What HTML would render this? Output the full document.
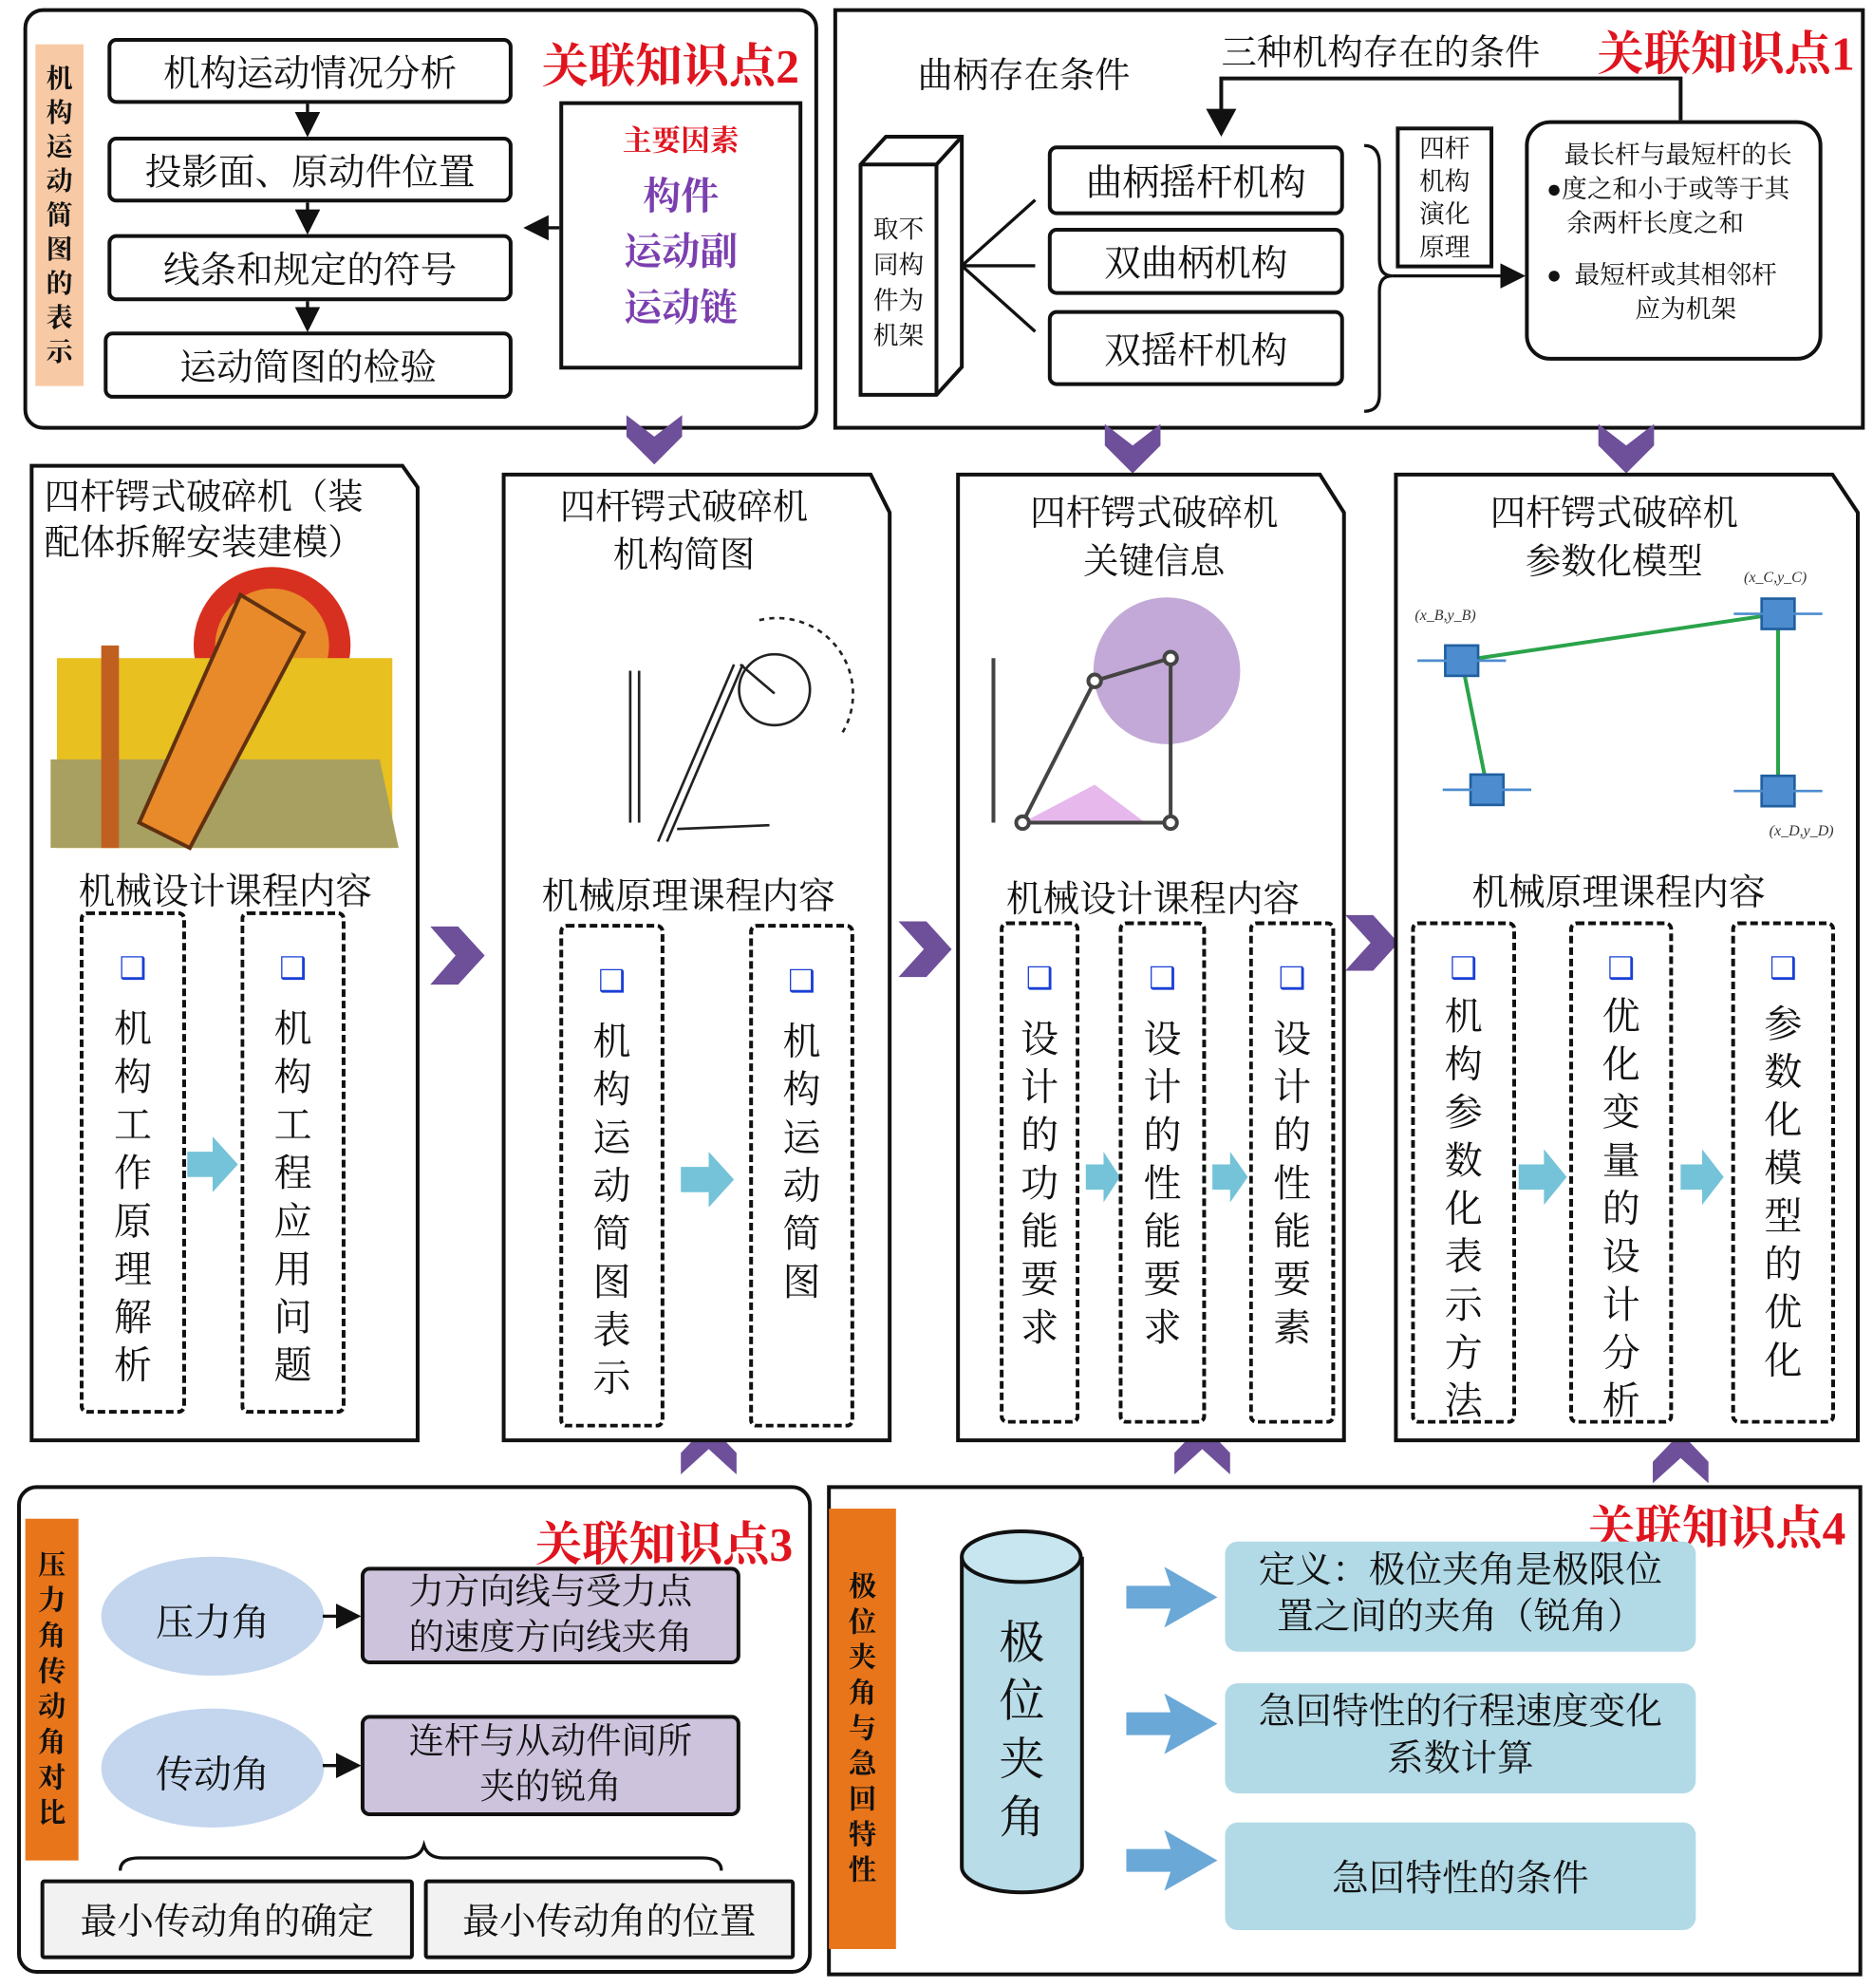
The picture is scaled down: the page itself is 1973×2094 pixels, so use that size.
<!DOCTYPE html>
<html><head><meta charset="utf-8"><style>
html,body{margin:0;padding:0;background:#fff;}
#wrap{width:1973px;height:2094px;overflow:hidden;position:relative;}
#c{position:absolute;left:0;top:0;width:1480px;height:1571px;transform:scale(1.3331);transform-origin:0 0;font-family:"Liberation Serif","Noto Serif CJK SC","Noto Sans CJK SC",serif;color:#111;}
.a{position:absolute;box-sizing:border-box;}
.bx{border:3px solid #111;border-radius:7px;display:flex;align-items:center;justify-content:center;font-size:29px;}
.red{color:#e0141e;font-size:37px;font-weight:bold;}
.vl{display:flex;flex-direction:column;align-items:center;justify-content:center;font-weight:bold;font-size:21px;line-height:27px;}
.dash{border:3px dashed #111;border-radius:6px;display:flex;flex-direction:column;align-items:center;font-size:30px;line-height:38px;padding-top:28px;}
.dash .ck{color:#1a3fd6;font-size:24px;line-height:30px;margin-bottom:14px;}
.t{position:absolute;white-space:nowrap;}
</style></head><body><div id="wrap"><div id="c">
<svg class="a" style="left:0;top:0" width="1480" height="1571" viewBox="0 0 1480 1571">
<defs><marker id="ah" markerWidth="8" markerHeight="8" refX="7" refY="4" orient="auto"><path d="M0,0L8,4L0,8z" fill="#111"/></marker></defs>
<rect x="20" y="8" width="625" height="330" rx="14" fill="none" stroke="#111" stroke-width="3"/>
<rect x="660" y="8" width="812" height="330" fill="none" stroke="#111" stroke-width="3"/>
<g stroke="#111" stroke-width="2.5" marker-end="url(#ah)"><line x1="243" y1="82" x2="243" y2="106"/><line x1="243" y1="160" x2="243" y2="183"/><line x1="243" y1="238" x2="243" y2="260"/><line x1="442" y1="180" x2="416" y2="180"/></g>
<polyline points="1328,95 1328,62 965,62 965,88" fill="none" stroke="#111" stroke-width="3"/><path d="M953,86L977,86L965,108z" fill="#111"/>
<path d="M680,130L700,108L760,108L760,290L740,312L680,312z" fill="#fff" stroke="#111" stroke-width="3"/><path d="M680,130L740,130L760,108M740,130L740,312" fill="none" stroke="#111" stroke-width="3"/>
<g stroke="#111" stroke-width="2.5"><line x1="760" y1="210" x2="818" y2="158"/><line x1="760" y1="210" x2="818" y2="210"/><line x1="760" y1="210" x2="818" y2="262"/></g>
<path d="M1078,115 Q1090,115 1090,130 L1090,205 Q1090,218 1100,218 Q1090,218 1090,230 L1090,312 Q1090,325 1078,325" fill="none" stroke="#111" stroke-width="2.5"/>
<line x1="1100" y1="218" x2="1203" y2="218" stroke="#111" stroke-width="2.5" marker-end="url(#ah)"/>
<g fill="#6e4f9a"><path d="M495,328L517,345L539,328L539,345L517,367L495,345z"/><path d="M873,335L895,352L917,335L917,352L895,374L873,352z"/><path d="M1263,335L1285,352L1307,335L1307,352L1285,374L1263,352z"/>
<path d="M340,732L360,755L340,778L362,778L383,755L362,732z"/><path d="M710,728L730,750L710,772L732,772L752,750L732,728z"/><path d="M1063,723L1083,745L1063,767L1085,767L1105,745L1085,723z"/>
<path d="M538,1165L560,1145L582,1165L582,1148L560,1125L538,1148z"/><path d="M928,1165L950,1145L972,1165L972,1148L950,1125L928,1148z"/><path d="M1306,1172L1328,1152L1350,1172L1350,1155L1328,1132L1306,1155z"/></g>
<g fill="#fff" stroke="#111" stroke-width="3"><path d="M25,368L318,368L330,385L330,1138L25,1138z"/><path d="M398,375L688,375L703,405L703,1138L398,1138z"/><path d="M757,375L1043,375L1062,405L1062,1138L757,1138z"/><path d="M1103,375L1448,375L1468,405L1468,1138L1103,1138z"/></g>
<circle cx="215" cy="510" r="62" fill="#d83020"/><circle cx="215" cy="510" r="45" fill="#e88a2a"/>
<rect x="45" y="520" width="265" height="150" fill="#e8c020"/><path d="M40,600L300,600L315,670L40,670z" fill="#a8a060"/>
<path d="M190,470L240,500L150,670L110,650z" fill="#e88a2a" stroke="#603010" stroke-width="3"/><rect x="80" y="510" width="14" height="160" fill="#c06020"/>
<g stroke="#222" stroke-width="2" fill="none"><line x1="498" y1="530" x2="498" y2="650"/><line x1="505" y1="530" x2="505" y2="650"/><line x1="520" y1="665" x2="580" y2="525"/><line x1="527" y1="665" x2="587" y2="525"/><circle cx="612" cy="545" r="28"/><line x1="585" y1="525" x2="612" y2="548"/><line x1="535" y1="655" x2="608" y2="652"/><path d="M600,490 A60,60 0 0 1 665,580" stroke-dasharray="4,4"/></g>
<circle cx="922" cy="530" r="58" fill="#b89ad0" opacity=".85"/><path d="M808,650L865,620L905,650z" fill="#e6b8ec"/>
<g stroke="#444" stroke-width="3" fill="none"><line x1="865" y1="538" x2="925" y2="520"/><line x1="865" y1="538" x2="808" y2="650"/><line x1="808" y1="650" x2="925" y2="650"/><line x1="925" y1="520" x2="925" y2="650"/><line x1="785" y1="520" x2="785" y2="650"/><circle cx="865" cy="538" r="5" fill="#fff"/><circle cx="808" cy="650" r="5" fill="#fff"/><circle cx="925" cy="650" r="5" fill="#fff"/><circle cx="925" cy="520" r="5" fill="#fff"/></g>
<g stroke="#2aa34a" stroke-width="3"><line x1="1155" y1="522" x2="1405" y2="485"/><line x1="1155" y1="522" x2="1175" y2="622"/><line x1="1405" y1="485" x2="1405" y2="625"/></g>
<g fill="#4d8ccf" stroke="#2060a0" stroke-width="2"><rect x="1142" y="510" width="26" height="24"/><rect x="1392" y="473" width="26" height="24"/><rect x="1162" y="612" width="26" height="24"/><rect x="1392" y="613" width="26" height="24"/></g>
<g stroke="#4d8ccf" stroke-width="2"><line x1="1120" y1="522" x2="1190" y2="522"/><line x1="1370" y1="485" x2="1440" y2="485"/><line x1="1140" y1="624" x2="1210" y2="624"/><line x1="1370" y1="625" x2="1440" y2="625"/></g>
<g font-size="12" font-style="italic" fill="#333"><text x="1118" y="490">(x_B,y_B)</text><text x="1378" y="460">(x_C,y_C)</text><text x="1398" y="660">(x_D,y_D)</text></g>
<g fill="#74c3d8"><path d="M148,910L168,910L168,898L188,920L168,942L168,930L148,930z"/><path d="M538,922L560,922L560,910L580,932L560,954L560,942L538,942z"/><path d="M858,920L872,920L872,910L885,930L872,950L872,940L858,940z"/><path d="M958,920L972,920L972,910L986,930L972,950L972,940L958,940z"/><path d="M1200,920L1220,920L1220,908L1238,930L1220,952L1220,940L1200,940z"/><path d="M1328,920L1345,920L1345,908L1362,930L1345,952L1345,940L1328,940z"/></g>
<rect x="15" y="1175" width="625" height="383" rx="14" fill="none" stroke="#111" stroke-width="3"/>
<rect x="655" y="1175" width="815" height="385" fill="none" stroke="#111" stroke-width="3"/>
<ellipse cx="168" cy="1277" rx="88" ry="47" fill="#c3d6ee"/><ellipse cx="168" cy="1397" rx="88" ry="47" fill="#c3d6ee"/>
<g stroke="#111" stroke-width="2.5" marker-end="url(#ah)"><line x1="255" y1="1277" x2="283" y2="1277"/><line x1="255" y1="1395" x2="283" y2="1395"/></g>
<path d="M95,1478 Q95,1468 110,1468 L320,1468 Q332,1468 335,1458 Q338,1468 350,1468 L555,1468 Q570,1468 570,1478" fill="none" stroke="#111" stroke-width="2.5"/>
<path d="M760,1230 L760,1475 A47,20 0 0 0 855,1475 L855,1230" fill="#b8dce8" stroke="#111" stroke-width="3"/><ellipse cx="807" cy="1230" rx="47" ry="20" fill="#c8e6f0" stroke="#111" stroke-width="3"/>
<g fill="#6aa8d8"><path d="M890,1253L925,1253L920,1238L962,1262L920,1286L925,1271L890,1271z"/><path d="M890,1353L925,1353L920,1338L962,1362L920,1386L925,1371L890,1371z"/><path d="M890,1461L925,1461L920,1446L962,1470L920,1494L925,1479L890,1479z"/></g>
</svg>

<div class="a vl" style="left:28px;top:35px;width:38px;height:270px;background:#f7c9a4;">机<br>构<br>运<br>动<br>简<br>图<br>的<br>表<br>示</div>
<div class="a bx" style="left:85px;top:30px;width:320px;height:52px;">机构运动情况分析</div>
<div class="a bx" style="left:85px;top:108px;width:320px;height:52px;">投影面、原动件位置</div>
<div class="a bx" style="left:85px;top:185px;width:320px;height:53px;">线条和规定的符号</div>
<div class="a bx" style="left:82px;top:262px;width:323px;height:53px;">运动简图的检验</div>
<div class="t red" style="left:428px;top:22px;">关联知识点2</div>
<div class="a" style="left:442px;top:80px;width:192px;height:212px;border:3px solid #111;text-align:center;">
<div style="color:#e0141e;font-size:23px;font-weight:bold;margin-top:10px;">主要因素</div>
<div style="color:#7b3fb0;font-size:30px;font-weight:bold;line-height:44px;margin-top:8px;">构件<br>运动副<br>运动链</div></div>

<div class="t" style="left:725px;top:38px;font-size:28px;">曲柄存在条件</div>
<div class="t" style="left:965px;top:20px;font-size:28px;">三种机构存在的条件</div>
<div class="t red" style="left:1262px;top:12px;">关联知识点1</div>
<div class="a" style="left:684px;top:168px;width:52px;font-size:20px;line-height:28px;text-align:center;">取不<br>同构<br>件为<br>机架</div>
<div class="a bx" style="left:828px;top:115px;width:234px;height:55px;">曲柄摇杆机构</div>
<div class="a bx" style="left:828px;top:180px;width:234px;height:53px;">双曲柄机构</div>
<div class="a bx" style="left:828px;top:245px;width:234px;height:60px;">双摇杆机构</div>
<div class="a" style="left:1103px;top:100px;width:77px;height:112px;border:3px solid #111;font-size:20px;line-height:26px;text-align:center;padding-top:2px;">四杆<br>机构<br>演化<br>原理</div>
<div class="a" style="left:1205px;top:95px;width:235px;height:190px;border:3px solid #111;border-radius:20px;font-size:20px;line-height:27px;padding:12px 4px 0 14px;">
<div style="text-indent:14px;">最长杆与最短杆的长</div><div>●度之和小于或等于其</div><div style="padding-left:16px;">余两杆长度之和</div>
<div style="margin-top:14px;">●&nbsp; 最短杆或其相邻杆</div><div style="padding-left:70px;">应为机架</div></div>

<div class="t" style="left:35px;top:376px;font-size:28px;line-height:36px;white-space:normal;width:275px;">四杆锷式破碎机（装配体拆解安装建模）</div>
<div class="t" style="left:62px;top:682px;font-size:29px;">机械设计课程内容</div>
<div class="a dash" style="left:63px;top:720px;width:84px;height:397px;"><span class="ck">❑</span>机<br>构<br>工<br>作<br>原<br>理<br>解<br>析</div>
<div class="a dash" style="left:190px;top:720px;width:83px;height:397px;"><span class="ck">❑</span>机<br>构<br>工<br>程<br>应<br>用<br>问<br>题</div>

<div class="t" style="left:398px;top:383px;width:285px;text-align:center;font-size:28px;line-height:38px;">四杆锷式破碎机<br>机构简图</div>
<div class="t" style="left:428px;top:686px;font-size:29px;">机械原理课程内容</div>
<div class="a dash" style="left:442px;top:730px;width:83px;height:398px;"><span class="ck">❑</span>机<br>构<br>运<br>动<br>简<br>图<br>表<br>示</div>
<div class="a dash" style="left:592px;top:730px;width:83px;height:398px;"><span class="ck">❑</span>机<br>构<br>运<br>动<br>简<br>图</div>

<div class="t" style="left:757px;top:388px;width:310px;text-align:center;font-size:28px;line-height:38px;">四杆锷式破碎机<br>关键信息</div>
<div class="t" style="left:795px;top:688px;font-size:29px;">机械设计课程内容</div>
<div class="a dash" style="left:790px;top:728px;width:63px;height:397px;"><span class="ck">❑</span>设<br>计<br>的<br>功<br>能<br>要<br>求</div>
<div class="a dash" style="left:884px;top:728px;width:69px;height:397px;"><span class="ck">❑</span>设<br>计<br>的<br>性<br>能<br>要<br>求</div>
<div class="a dash" style="left:987px;top:728px;width:68px;height:397px;"><span class="ck">❑</span>设<br>计<br>的<br>性<br>能<br>要<br>素</div>

<div class="t" style="left:1103px;top:388px;width:345px;text-align:center;font-size:28px;line-height:38px;">四杆锷式破碎机<br>参数化模型</div>
<div class="t" style="left:1163px;top:683px;font-size:29px;">机械原理课程内容</div>
<div class="a dash" style="left:1115px;top:728px;width:83px;height:397px;padding-top:20px;"><span class="ck" style="margin-bottom:4px">❑</span>机<br>构<br>参<br>数<br>化<br>表<br>示<br>方<br>法</div>
<div class="a dash" style="left:1240px;top:728px;width:82px;height:397px;padding-top:20px;"><span class="ck" style="margin-bottom:4px">❑</span>优<br>化<br>变<br>量<br>的<br>设<br>计<br>分<br>析</div>
<div class="a dash" style="left:1368px;top:728px;width:82px;height:397px;padding-top:20px;"><span class="ck" style="margin-bottom:10px">❑</span>参<br>数<br>化<br>模<br>型<br>的<br>优<br>化</div>

<div class="a vl" style="left:20px;top:1200px;width:42px;height:270px;background:#e8751a;color:#111;font-size:22px;line-height:28px;">压<br>力<br>角<br>传<br>动<br>角<br>对<br>比</div>
<div class="t red" style="left:423px;top:1190px;">关联知识点3</div>
<div class="t" style="left:80px;top:1257px;width:176px;text-align:center;font-size:30px;">压力角</div>
<div class="t" style="left:80px;top:1377px;width:176px;text-align:center;font-size:30px;">传动角</div>
<div class="a bx" style="left:285px;top:1238px;width:300px;height:77px;background:#cdc3dd;font-size:28px;line-height:36px;text-align:center;">力方向线与受力点<br>的速度方向线夹角</div>
<div class="a bx" style="left:285px;top:1355px;width:300px;height:80px;background:#cdc3dd;font-size:28px;line-height:36px;text-align:center;">连杆与从动件间所<br>夹的锐角</div>
<div class="a bx" style="left:32px;top:1485px;width:295px;height:63px;background:#f2f2f2;border-radius:3px;">最小传动角的确定</div>
<div class="a bx" style="left:335px;top:1485px;width:293px;height:63px;background:#f2f2f2;border-radius:3px;">最小传动角的位置</div>

<div class="a vl" style="left:655px;top:1192px;width:53px;height:348px;background:#e8751a;font-size:22px;line-height:28px;">极<br>位<br>夹<br>角<br>与<br>急<br>回<br>特<br>性</div>
<div class="t red" style="left:1255px;top:1177px;">关联知识点4</div>
<div class="a" style="left:760px;top:1275px;width:95px;text-align:center;font-size:36px;line-height:46px;">极<br>位<br>夹<br>角</div>
<div class="a" style="left:968px;top:1218px;width:372px;height:87px;background:#b2dae6;border-radius:10px;font-size:29px;line-height:37px;text-align:center;padding-top:5px;">定义：极位夹角是极限位<br>置之间的夹角（锐角）</div>
<div class="a" style="left:968px;top:1330px;width:372px;height:87px;background:#b2dae6;border-radius:10px;font-size:29px;line-height:37px;text-align:center;padding-top:5px;">急回特性的行程速度变化<br>系数计算</div>
<div class="a" style="left:968px;top:1440px;width:372px;height:85px;background:#b2dae6;border-radius:10px;font-size:29px;display:flex;align-items:center;justify-content:center;">急回特性的条件</div>
</div></div></body></html>
